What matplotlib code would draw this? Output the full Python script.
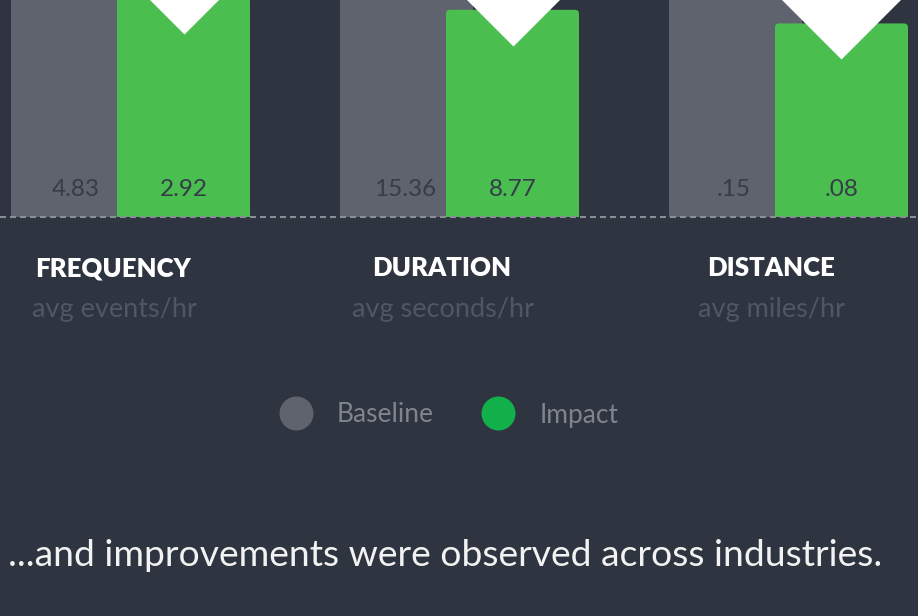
import matplotlib
matplotlib.use("Agg")
import matplotlib.pyplot as plt
from matplotlib.patches import FancyBboxPatch
from matplotlib.lines import Line2D
import numpy as np

# ---- data ----
categories = ["FREQUENCY", "DURATION", "DISTANCE"]
units = ["avg events/hr", "avg seconds/hr", "avg miles/hr"]
baseline = [4.83, 15.36, 0.15]
impact = [2.92, 8.77, 0.08]
baseline_labels = ["4.83", "15.36", ".15"]
impact_labels = ["2.92", "8.77", ".08"]
series_names = ["Baseline", "Impact"]
footer = "...and improvements were observed across industries."

# ---- style ----
BG = "#2e3440"
GRAY = "#5e636d"
GREEN = "#4bbe50"
LEG_GREEN = "#12b04b"
VAL_COL = "#363c48"
SUB_COL = "#4f5665"
LEG_TXT = "#7f848e"
FONT = ["Lato", "DejaVu Sans"]
plt.rcParams["font.family"] = FONT
plt.rcParams["lines.scale_dashes"] = False

W, H = 918, 616
DPI = 100
fig = plt.figure(figsize=(W / DPI, H / DPI), dpi=DPI, facecolor=BG)

axis_px = 216.5            # pixel row of the bar baseline
full_px = 362.0            # pixel height of a baseline (=1.0) bar
group_px = 329.0           # pixel spacing of groups
ax = fig.add_axes([0, 1 - axis_px / H, 1, axis_px / H])
ax.set_facecolor(BG)
ax.set_axis_off()

left_px = 117.0
ax.set_xlim(-left_px / group_px, (W - left_px) / group_px)
ax.set_ylim(0, axis_px / full_px)

x = np.arange(len(categories))
ratio_base = np.array(baseline) / np.array(baseline)
ratio_imp = np.array(impact) / np.array(baseline)

bw = 133 / group_px
gray_off = 106 / group_px

gb = ax.bar(x - gray_off, ratio_base, width=bw, align="edge", color=GRAY, zorder=1)
ib = ax.bar(x, ratio_imp, width=bw, align="edge", color=GREEN, zorder=2)

# round the top corners of the impact bars
r_px = 4.0
rx = r_px / group_px
aspect = group_px / full_px
for b in ib:
    b.set_visible(False)
    bx, bh = b.get_x(), b.get_height()
    p = FancyBboxPatch((bx, -0.05), b.get_width(), bh + 0.05,
                       boxstyle=f"round,pad=0,rounding_size={rx}",
                       mutation_aspect=aspect, facecolor=GREEN,
                       edgecolor="none", zorder=2)
    ax.add_patch(p)

# white down-pointing triangles on impact bars
tri = [(-1, 0.5), (1, 0.5), (0, -0.5)]
ax.plot(x + bw / 2, ratio_imp, linestyle="none", marker=tri,
        markersize=144 * 72 / DPI, color="white", markeredgewidth=0,
        zorder=3, clip_on=False)

# value labels
val_y = (axis_px - 190) / full_px
for i in range(len(categories)):
    ax.text(x[i] - 41 / group_px, val_y, baseline_labels[i], ha="center",
            va="center", fontsize=17.5, fontweight="normal", color=VAL_COL, zorder=4)
    ax.text(x[i] + bw / 2, val_y, impact_labels[i], ha="center",
            va="center", fontsize=17.5, fontweight="normal", color=VAL_COL, zorder=4)

# dashed baseline
ax.axhline(0, color="#8a8e97", lw=1.5, dashes=(4.3, 2.9), zorder=5, clip_on=False)

# category titles & units
tr = ax.get_xaxis_transform()
for i in range(len(categories)):
    ax.text(x[i] - 4 / group_px, -(268 - axis_px) / axis_px, categories[i], transform=tr,
            ha="center", va="center", fontsize=18.5, fontweight="heavy",
            color="white")
    ax.text(x[i] - 3 / group_px, -(309 - axis_px) / axis_px, units[i], transform=tr,
            ha="center", va="center", fontsize=19.5, fontweight="normal",
            color=SUB_COL)

# legend
handles = [Line2D([], [], linestyle="none", marker="o", markersize=34 * 72 / DPI,
                  markerfacecolor=c, markeredgewidth=0)
           for c in (GRAY, LEG_GREEN)]
leg = fig.legend(handles, series_names, loc="center", ncol=2,
                 bbox_to_anchor=(448.5 / W, 1 - 415 / H), frameon=False,
                 fontsize=19, handlelength=1.3, handletextpad=0.9,
                 columnspacing=1.8, labelcolor=LEG_TXT)

# footer sentence
fig.text(8 / W, 1 - 555 / H, footer, ha="left", va="center", fontsize=26.8,
         fontweight="normal", color="#f2f2f2")

fig.savefig("out.png", dpi=DPI, facecolor=BG)
